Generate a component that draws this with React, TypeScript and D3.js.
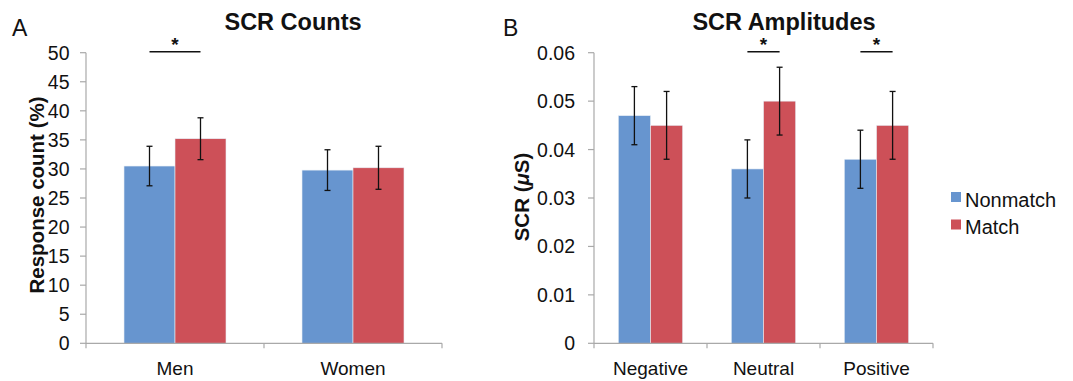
import * as d3 from "d3";
import React from "react";

// Panel A: SCR counts
const countGroups = ["Men", "Women"];
const countNonmatch = [30.5, 29.8];
const countMatch = [35.2, 30.2];
const countNonmatchErr = [3.4, 3.5];
const countMatchErr = [3.6, 3.7];
const countTicks = [0, 5, 10, 15, 20, 25, 30, 35, 40, 45, 50];
const countSig = ["Men"];

// Panel B: SCR amplitudes
const ampGroups = ["Negative", "Neutral", "Positive"];
const ampNonmatch = [0.047, 0.036, 0.038];
const ampMatch = [0.045, 0.05, 0.045];
const ampNonmatchErr = [0.006, 0.006, 0.006];
const ampMatchErr = [0.007, 0.007, 0.007];
const ampTicks = [0, 0.01, 0.02, 0.03, 0.04, 0.05, 0.06];
const ampSig = ["Neutral", "Positive"];

const seriesNames = ["Nonmatch", "Match"];
const colors = ["#6795cf", "#cd5058"];
const FONT = "'Liberation Sans', Arial, Helvetica, sans-serif";

const Panel = ({ left, right, groups, nonmatch, match, errN, errM, ticks, yMax, fmt, sig, barFrac, title, titleX, letter, letterX, yLabel, yLabelX, yLabelY, tickGap }) => {
  const top = 52.7;
  const bottom = 343.3;
  const x = d3.scaleBand().domain(groups).range([left, right]);
  const y = d3.scaleLinear().domain([0, yMax]).range([bottom, top]);
  const bw = x.bandwidth() * barFrac;
  const sub = d3.scaleBand().domain(seriesNames).range([0, bw * 2]);
  const vals = [nonmatch, match];
  const errs = [errN, errM];
  const bounds = groups.map((g) => x(g)).concat([right]);

  return (
    <g fontFamily={FONT}>
      <text x={letterX} y={36} fontSize={23} fill="#111">{letter}</text>
      <text x={titleX} y={30} fontSize={23.5} fontWeight="bold" textAnchor="middle" fill="#111">{title}</text>
      <text transform={`translate(${yLabelX},${yLabelY}) rotate(-90)`} fontSize={20.5} fontWeight="bold" textAnchor="middle" fill="#111">{yLabel}</text>
      {/* y axis */}
      <line x1={left} x2={left} y1={top} y2={bottom} stroke="#a9a9a9" strokeWidth={1.2} />
      {ticks.map((t) => (
        <g key={t}>
          <line x1={left - 6} x2={left} y1={y(t)} y2={y(t)} stroke="#a9a9a9" strokeWidth={1.2} />
          <text x={left - tickGap} y={y(t)} dy="0.36em" textAnchor="end" fontSize={19.5} fill="#111">{fmt(t)}</text>
        </g>
      ))}
      {/* bars */}
      {groups.map((g, i) => {
        const gx = x(g) + (x.bandwidth() - bw * 2) / 2;
        return (
          <g key={g}>
            {seriesNames.map((s, k) => (
              <rect key={s} x={gx + sub(s)} y={y(vals[k][i])} width={sub.bandwidth()} height={bottom - y(vals[k][i])} fill={colors[k]} stroke="#e8eef6" strokeWidth={0.6} />
            ))}
            {seriesNames.map((s, k) => {
              const cx = gx + sub(s) + sub.bandwidth() / 2;
              const y1 = y(vals[k][i] + errs[k][i]);
              const y2 = y(vals[k][i] - errs[k][i]);
              return (
                <g key={s + "e"} stroke="#111" strokeWidth={1.3}>
                  <line x1={cx} x2={cx} y1={y1} y2={y2} />
                  <line x1={cx - 3} x2={cx + 3} y1={y1} y2={y1} />
                  <line x1={cx - 3} x2={cx + 3} y1={y2} y2={y2} />
                </g>
              );
            })}
            {sig.includes(g) && (
              <g>
                <line x1={gx + sub.bandwidth() / 2} x2={gx + sub(seriesNames[1]) + sub.bandwidth() / 2} y1={51.7} y2={51.7} stroke="#111" strokeWidth={1.5} />
                <text x={gx + sub.bandwidth()} y={51} textAnchor="middle" fontSize={19} fontWeight="bold" fill="#111">*</text>
              </g>
            )}
          </g>
        );
      })}
      {/* x axis */}
      <line x1={left} x2={right} y1={bottom} y2={bottom} stroke="#a9a9a9" strokeWidth={1.2} />
      {bounds.map((b, i) => (
        <line key={i} x1={b} x2={b} y1={bottom} y2={bottom + 5} stroke="#a9a9a9" strokeWidth={1.2} />
      ))}
      {groups.map((g) => (
        <text key={g} x={x(g) + x.bandwidth() / 2} y={375} textAnchor="middle" fontSize={19} fill="#111">{g}</text>
      ))}
    </g>
  );
};

export default function App() {
  return (
    <svg width={1073} height={381} style={{ position: "absolute", left: 0, top: 0, background: "#fff" }}>
      <Panel
        left={86} right={442} groups={countGroups} nonmatch={countNonmatch} match={countMatch}
        errN={countNonmatchErr} errM={countMatchErr} ticks={countTicks} yMax={50} fmt={(t) => String(t)}
        sig={countSig} barFrac={0.2865} title="SCR Counts" titleX={293} letter="A" letterX={12}
        yLabel="Response count (%)" yLabelX={43.5} yLabelY={195} tickGap={16.5}
      />
      <Panel
        left={594} right={933} groups={ampGroups} nonmatch={ampNonmatch} match={ampMatch}
        errN={ampNonmatchErr} errM={ampMatchErr} ticks={ampTicks} yMax={0.06} fmt={(t) => (t === 0 ? "0" : d3.format(".2f")(t))}
        sig={ampSig} barFrac={0.285} title="SCR Amplitudes" titleX={784} letter="B" letterX={503}
        yLabel={<>SCR (<tspan fontStyle="italic">μ</tspan>S)</>} yLabelX={529} yLabelY={197} tickGap={19}
      />
      <g fontFamily={FONT}>
        {seriesNames.map((s, k) => (
          <g key={s}>
            <rect x={951} y={192 + k * 27.5} width={10} height={10} fill={colors[k]} />
            <text x={965} y={206.5 + k * 27} fontSize={20} fill="#111">{s}</text>
          </g>
        ))}
      </g>
    </svg>
  );
}
